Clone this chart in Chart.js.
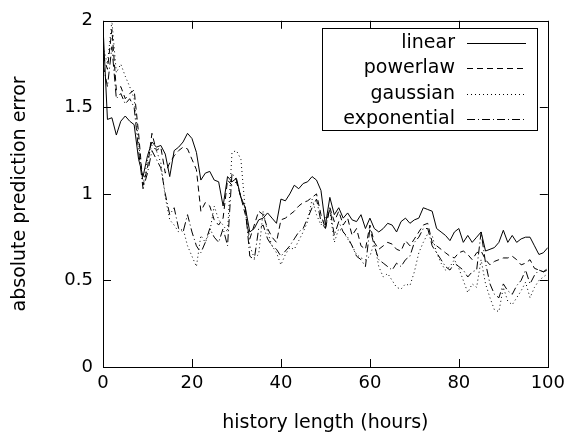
<!DOCTYPE html>
<html>
<head>
<meta charset="utf-8">
<script src="https://cdn.jsdelivr.net/npm/chart.js@4.4.1/dist/chart.umd.min.js"></script>
<style>
  html, body { margin: 0; padding: 0; background: #fff; }
  canvas { display: block; }
</style>
</head>
<body>
<canvas id="myChart" width="571" height="432"></canvas>
<script>
// history length in hours (x values)
var hours = [
  0, 1, 2, 3, 4, 5, 6, 7, 8, 9,
  10, 11, 12, 13, 14, 15, 16, 17, 18, 19,
  20, 21, 22, 23, 24, 25, 26, 27, 28, 29,
  30, 31, 32, 33, 34, 35, 36, 37, 38, 39,
  40, 41, 42, 43, 44, 45, 46, 47, 48, 49,
  50, 51, 52, 53, 54, 55, 56, 57, 58, 59,
  60, 61, 62, 63, 64, 65, 66, 67, 68, 69,
  70, 71, 72, 73, 74, 75, 76, 77, 78, 79,
  80, 81, 82, 83, 84, 85, 86, 87, 88, 89,
  90, 91, 92, 93, 94, 95, 96, 97, 98, 99,
  100
];

var linear = [
  1.97, 1.43, 1.44, 1.34, 1.42, 1.45, 1.42, 1.40, 1.20, 1.10,
  1.22, 1.30, 1.27, 1.28, 1.23, 1.10, 1.25, 1.27, 1.30, 1.35,
  1.32, 1.24, 1.08, 1.12, 1.13, 1.08, 1.07, 0.93, 1.10, 1.07,
  1.09, 0.98, 0.92, 0.78, 0.80, 0.85, 0.86, 0.89, 0.86, 0.83,
  0.97, 0.96, 1.00, 1.05, 1.03, 1.06, 1.07, 1.10, 1.08, 1.02,
  0.82, 0.98, 0.88, 0.92, 0.86, 0.89, 0.85, 0.84, 0.88, 0.80,
  0.86, 0.80, 0.78, 0.80, 0.83, 0.82, 0.78, 0.84, 0.86, 0.83,
  0.85, 0.86, 0.92, 0.91, 0.90, 0.80, 0.78, 0.76, 0.73, 0.78,
  0.80, 0.72, 0.76, 0.72, 0.75, 0.78, 0.67, 0.68, 0.69, 0.72,
  0.79, 0.72, 0.76, 0.72, 0.74, 0.75, 0.75, 0.70, 0.65, 0.66,
  0.69
];

var powerlaw = [
  1.80, 1.72, 1.95, 1.60, 1.62, 1.55, 1.58, 1.60, 1.35, 1.05,
  1.15, 1.35, 1.25, 1.27, 1.12, 1.18, 1.22, 1.25, 1.27, 1.26,
  1.20, 1.14, 0.90, 0.95, 0.93, 0.85, 0.82, 0.86, 1.08, 1.05,
  1.07, 0.98, 0.88, 0.74, 0.82, 0.90, 0.88, 0.80, 0.75, 0.72,
  0.85, 0.86, 0.88, 0.90, 0.93, 0.95, 0.96, 0.98, 1.00, 0.88,
  0.80, 0.92, 0.84, 0.90, 0.82, 0.86, 0.76, 0.80, 0.70, 0.68,
  0.82, 0.72, 0.68, 0.70, 0.72, 0.71, 0.68, 0.67, 0.73, 0.70,
  0.74, 0.78, 0.82, 0.83, 0.72, 0.70, 0.68, 0.66, 0.64, 0.63,
  0.66, 0.67, 0.65, 0.62, 0.66, 0.67, 0.62, 0.59, 0.61, 0.62,
  0.63, 0.63, 0.64, 0.62, 0.59, 0.60, 0.62, 0.57, 0.56, 0.55,
  0.57
];

var gaussian = [
  1.85, 1.75, 2.00, 1.70, 1.75, 1.68, 1.62, 1.55, 1.30, 1.05,
  1.20, 1.28, 1.25, 1.18, 0.98, 0.85, 0.82, 0.78, 0.80, 0.70,
  0.64, 0.58, 0.76, 0.72, 0.78, 0.93, 0.85, 0.82, 0.78, 1.24,
  1.25, 1.20, 0.90, 0.70, 0.63, 0.65, 0.90, 0.78, 0.70, 0.66,
  0.59, 0.65, 0.69, 0.68, 0.73, 0.78, 0.84, 0.97, 0.88, 0.82,
  0.86, 0.90, 0.72, 0.80, 0.78, 0.74, 0.70, 0.65, 0.63, 0.62,
  0.64, 0.72, 0.58, 0.52, 0.54, 0.50, 0.46, 0.45, 0.48, 0.47,
  0.55, 0.66, 0.72, 0.77, 0.76, 0.66, 0.60, 0.56, 0.58, 0.62,
  0.57, 0.50, 0.43, 0.48, 0.46, 0.62, 0.48, 0.40, 0.33, 0.32,
  0.46, 0.38, 0.36, 0.40, 0.44, 0.49, 0.40, 0.46, 0.50, 0.52,
  0.54
];

var exponential = [
  1.75, 1.62, 1.85, 1.55, 1.58, 1.52, 1.55, 1.50, 1.25, 1.03,
  1.12, 1.25, 1.20, 1.15, 1.00, 0.88, 0.92, 0.80, 0.78, 0.88,
  0.78, 0.70, 0.66, 0.72, 0.80, 0.75, 0.72, 0.80, 0.70, 1.12,
  1.08, 0.98, 0.92, 0.64, 0.62, 0.80, 0.82, 0.74, 0.70, 0.68,
  0.64, 0.67, 0.70, 0.74, 0.78, 0.80, 0.86, 0.92, 0.97, 0.84,
  0.80, 0.92, 0.76, 0.84, 0.78, 0.75, 0.70, 0.64, 0.62, 0.58,
  0.80, 0.70, 0.62, 0.60, 0.58, 0.56, 0.60, 0.58, 0.62, 0.64,
  0.72, 0.75, 0.80, 0.80, 0.70, 0.66, 0.62, 0.58, 0.56, 0.60,
  0.58, 0.56, 0.52, 0.55, 0.56, 0.78, 0.60, 0.48, 0.42, 0.40,
  0.48, 0.44, 0.42, 0.47, 0.50, 0.56, 0.48, 0.53, 0.56, 0.55,
  0.56
];

var seriesNames = ['linear', 'powerlaw', 'gaussian', 'exponential'];
var seriesValues = [linear, powerlaw, gaussian, exponential];
var xTicks = [0, 20, 40, 60, 80, 100];
var yTicks = [0, 0.5, 1, 1.5, 2];

// line styles (gnuplot-ish)
var dashes = [[], [6, 4], [1, 3], [8, 3, 1, 3]];
var FONT = 'DejaVu Sans';

const datasets = seriesNames.map((name, k) => ({
  label: name,
  data: hours.map((h, i) => ({ x: h, y: seriesValues[k][i] })),
  borderColor: '#000',
  borderWidth: 1,
  borderDash: dashes[k],
  pointRadius: 0,
  tension: 0,
  fill: false
}));

// frame, inside ticks on all four sides, and the boxed legend
const framePlugin = {
  id: 'frame',
  afterDraw(chart) {
    const c = chart.ctx;
    const a = chart.chartArea;
    const xs = chart.scales.x, ys = chart.scales.y;
    c.save();
    c.strokeStyle = '#000';
    c.lineWidth = 1;
    c.setLineDash([]);
    c.strokeRect(Math.round(a.left) + 0.5, Math.round(a.top) + 0.5,
      Math.round(a.right - a.left), Math.round(a.bottom - a.top));
    c.beginPath();
    xTicks.forEach(t => {
      const px = Math.round(xs.getPixelForValue(t)) + 0.5;
      c.moveTo(px, a.bottom); c.lineTo(px, a.bottom - 8);
      c.moveTo(px, a.top); c.lineTo(px, a.top + 8);
    });
    yTicks.forEach(t => {
      const py = Math.round(ys.getPixelForValue(t)) + 0.5;
      c.moveTo(a.left, py); c.lineTo(a.left + 8, py);
      c.moveTo(a.right, py); c.lineTo(a.right - 8, py);
    });
    c.stroke();

    // legend
    c.fillStyle = '#fff';
    c.fillRect(322, 28, 215, 102);
    c.strokeRect(322.5, 28.5, 215, 102);
    c.font = '19px "' + FONT + '"';
    c.fillStyle = '#000';
    c.textAlign = 'right';
    c.textBaseline = 'middle';
    seriesNames.forEach((name, k) => {
      const yy = 43 + k * 25.3;
      c.fillText(name, 455, yy);
      c.beginPath();
      c.setLineDash(dashes[k]);
      c.moveTo(467, Math.round(yy) + 0.5);
      c.lineTo(526, Math.round(yy) + 0.5);
      c.stroke();
    });
    c.restore();
  }
};

const myChart = new Chart(document.getElementById('myChart'), {
  type: 'line',
  data: { datasets: datasets },
  options: {
    responsive: false,
    animation: false,
    layout: { padding: { top: 20, right: 22, left: 0, bottom: 0 } },
    plugins: {
      legend: { display: false },
      tooltip: { enabled: false }
    },
    scales: {
      x: {
        type: 'linear',
        min: 0,
        max: 100,
        afterFit: (s) => { s.height = 65; },
        afterBuildTicks: (s) => { s.ticks = xTicks.map(v => ({ value: v })); },
        grid: { display: false, drawTicks: false },
        border: { display: false },
        ticks: { color: '#000', padding: 6, maxRotation: 0, font: { family: FONT, size: 18 } },
        title: { display: true, text: 'history length (hours)', color: '#000', padding: { top: 4, bottom: -2 }, font: { family: FONT, size: 19 } }
      },
      y: {
        min: 0,
        max: 2,
        afterFit: (s) => { s.width = 103; },
        afterBuildTicks: (s) => { s.ticks = yTicks.map(v => ({ value: v })); },
        grid: { display: false, drawTicks: false },
        border: { display: false },
        ticks: { color: '#000', padding: 10, font: { family: FONT, size: 18 }, callback: (v) => String(v) },
        title: { display: true, text: 'absolute prediction error', color: '#000', padding: { top: 9, bottom: 0 }, font: { family: FONT, size: 19 } }
      }
    }
  },
  plugins: [framePlugin]
});
</script>
</body>
</html>
